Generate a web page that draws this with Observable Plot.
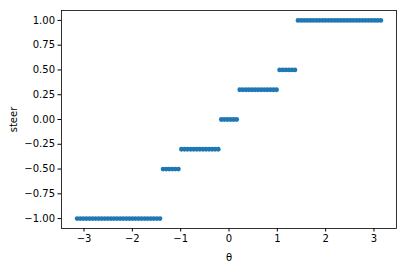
<!DOCTYPE html>
<html>
<head>
<meta charset="utf-8">
<script src="https://cdn.jsdelivr.net/npm/d3@7"></script>
<script src="https://cdn.jsdelivr.net/npm/@observablehq/plot@0.6"></script>
<style>
  html, body { margin: 0; padding: 0; background: #fff; }
</style>
</head>
<body>
<div id="chart"></div>
<script>
const theta = [
  -3.142, -3.078, -3.015, -2.951, -2.888, -2.824, -2.761, -2.697, -2.634, -2.570,
  -2.507, -2.443, -2.380, -2.317, -2.253, -2.190, -2.126, -2.063, -1.999, -1.936,
  -1.872, -1.809, -1.745, -1.682, -1.618, -1.555, -1.491, -1.428, -1.364, -1.301,
  -1.238, -1.174, -1.111, -1.047, -0.984, -0.920, -0.857, -0.793, -0.730, -0.666,
  -0.603, -0.539, -0.476, -0.412, -0.349, -0.285, -0.222, -0.159, -0.095, -0.032,
   0.032,  0.095,  0.159,  0.222,  0.285,  0.349,  0.412,  0.476,  0.539,  0.603,
   0.666,  0.730,  0.793,  0.857,  0.920,  0.984,  1.047,  1.111,  1.174,  1.238,
   1.301,  1.364,  1.428,  1.491,  1.555,  1.618,  1.682,  1.745,  1.809,  1.872,
   1.936,  1.999,  2.063,  2.126,  2.190,  2.253,  2.317,  2.380,  2.443,  2.507,
   2.570,  2.634,  2.697,  2.761,  2.824,  2.888,  2.951,  3.015,  3.078,  3.142
];
const steer = [
  -1, -1, -1, -1, -1, -1, -1, -1, -1, -1,
  -1, -1, -1, -1, -1, -1, -1, -1, -1, -1,
  -1, -1, -1, -1, -1, -1, -1, -1, -0.5, -0.5,
  -0.5, -0.5, -0.5, -0.5, -0.3, -0.3, -0.3, -0.3, -0.3, -0.3,
  -0.3, -0.3, -0.3, -0.3, -0.3, -0.3, -0.3, 0, 0, 0,
  0, 0, 0, 0.3, 0.3, 0.3, 0.3, 0.3, 0.3, 0.3,
  0.3, 0.3, 0.3, 0.3, 0.3, 0.3, 0.5, 0.5, 0.5, 0.5,
  0.5, 0.5, 1, 1, 1, 1, 1, 1, 1, 1,
  1, 1, 1, 1, 1, 1, 1, 1, 1, 1,
  1, 1, 1, 1, 1, 1, 1, 1, 1, 1
];
const xTicks = [-3, -2, -1, 0, 1, 2, 3];
const yTicks = [-1, -0.75, -0.5, -0.25, 0, 0.25, 0.5, 0.75, 1];

const data = theta.map((t, i) => ({theta: t, steer: steer[i]}));
const minus = s => s.replace("-", "\u2212");

const chart = Plot.plot({
  width: 420,
  height: 265,
  marginLeft: 61,
  marginRight: 24,
  marginTop: 10,
  marginBottom: 37,
  style: {fontFamily: "DejaVu Sans", fontSize: "10px", color: "#000", background: "#fff"},
  x: {domain: [-3.466, 3.466]},
  y: {domain: [-1.1, 1.1]},
  marks: [
    Plot.frame({stroke: "#000", strokeWidth: 0.8}),
    Plot.axisX({ticks: xTicks, tickSize: 3.5, tickPadding: 3, tickFormat: d => minus(String(d)),
      label: "θ", labelAnchor: "center", labelArrow: "none", labelOffset: 32}),
    Plot.axisY({ticks: yTicks, tickSize: 3.5, tickPadding: 3, tickFormat: d => minus(d.toFixed(2)),
      label: "steer", labelAnchor: "center", labelArrow: "none", labelOffset: 52}),
    Plot.dot(data, {x: "theta", y: "steer", r: 2.4, fill: "#1f77b4", stroke: "none"})
  ]
});
document.getElementById("chart").appendChild(chart);
</script>
</body>
</html>
